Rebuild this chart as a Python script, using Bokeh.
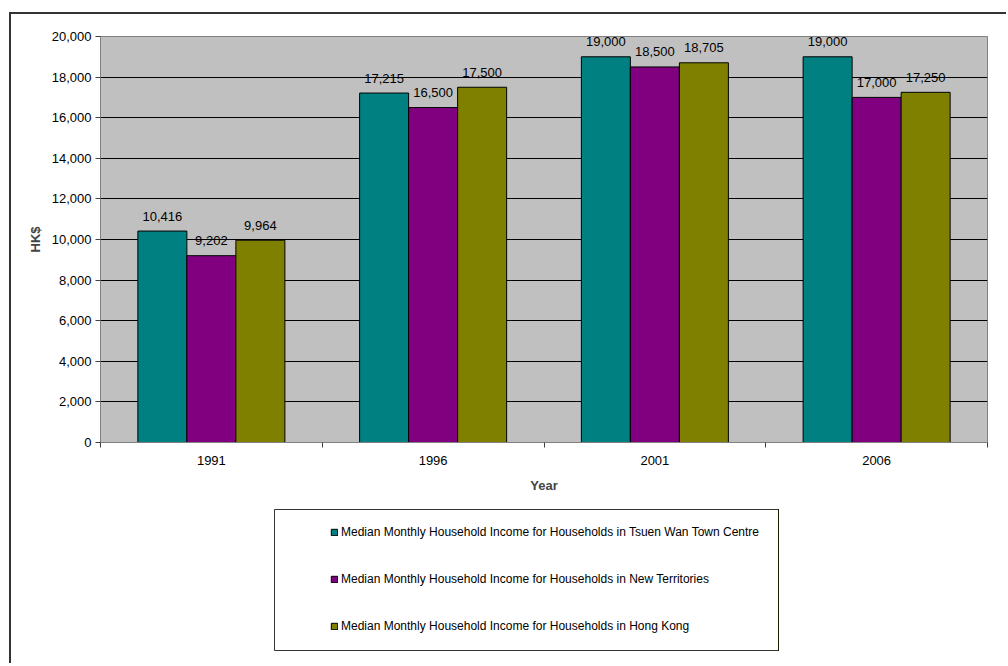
from bokeh.plotting import figure
from bokeh.layouts import column
from bokeh.core.properties import value
from bokeh.models import (ColumnDataSource, Range1d, LinearAxis,
                          FixedTicker, LabelSet, Legend, LegendItem,
                          NumeralTickFormatter)
from bokeh.transform import dodge
from bokeh.embed import file_html
from bokeh.resources import INLINE

years = ["1991", "1996", "2001", "2006"]
tsuen_wan = [10416, 17215, 19000, 19000]
new_territories = [9202, 16500, 18500, 17000]
hong_kong = [9964, 17500, 18705, 17250]
series_names = [
    "Median Monthly Household Income for Households in Tsuen Wan Town Centre",
    "Median Monthly Household Income for Households in New Territories",
    "Median Monthly Household Income for Households in Hong Kong",
]
y_ticks = list(range(0, 20001, 2000))

FONT = "Liberation Sans"
colors = ["#008080", "#800080", "#808000"]

pos = [i + 0.5 for i in range(len(years))]
source = ColumnDataSource(dict(
    pos=pos,
    tw=tsuen_wan, nt=new_territories, hk=hong_kong,
    tw_l=[f"{v:,}" for v in tsuen_wan],
    nt_l=[f"{v:,}" for v in new_territories],
    hk_l=[f"{v:,}" for v in hong_kong],
))
series = [(-0.221, "tw", "tw_l", colors[0]), (0, "nt", "nt_l", colors[1]), (0.221, "hk", "hk_l", colors[2])]
bw = 0.221

W = 995
p = figure(width=W, height=491, x_range=Range1d(0, len(years)),
           y_range=Range1d(0, 20000), output_backend="svg", toolbar_location=None,
           x_axis_location=None, min_border_left=89, min_border_right=19,
           min_border_top=22, min_border_bottom=63)
p.frame_align = False
p.background_fill_color = "#C0C0C0"
p.border_fill_color = "white"
p.outline_line_color = "#808080"
p.outline_line_width = 1
p.xgrid.grid_line_color = None
p.ygrid.grid_line_color = "black"
p.ygrid.grid_line_width = 1
p.ygrid.ticker = FixedTicker(ticks=y_ticks)

# y axis
ya = p.yaxis[0]
ya.ticker = FixedTicker(ticks=y_ticks, minor_ticks=[])
ya.formatter = NumeralTickFormatter(format="0,0")
ya.axis_label = "HK$"
ya.axis_label_text_font = FONT
ya.axis_label_text_font_style = "bold"
ya.axis_label_text_font_size = "13px"
ya.axis_label_standoff = 6
ya.major_label_text_font = FONT
ya.major_label_text_font_size = "13px"
ya.major_label_text_color = "black"
ya.major_label_standoff = 4
ya.major_tick_out = 5
ya.major_tick_in = 0
ya.axis_line_color = "#808080"
ya.major_tick_line_color = "#404040"

# x boundary ticks axis
tick_axis = LinearAxis(ticker=FixedTicker(ticks=list(range(len(years) + 1)), minor_ticks=[]),
                       major_label_overrides={i: "" for i in range(len(years) + 1)},
                       major_label_text_font_size="1px", major_label_standoff=0,
                       major_tick_out=5, major_tick_in=0,
                       axis_line_color="#808080", major_tick_line_color="#404040")
p.add_layout(tick_axis, "below")

cat_axis = LinearAxis(ticker=FixedTicker(ticks=pos, minor_ticks=[]),
                      major_label_overrides={x: y for x, y in zip(pos, years)},
                      axis_line_color=None, major_tick_line_color=None,
                      major_tick_out=0, major_tick_in=0,
                      major_label_standoff=8,
                      major_label_text_font=FONT, major_label_text_font_size="13px",
                      major_label_text_color="black",
                      axis_label="Year", axis_label_text_font=FONT,
                      axis_label_text_font_style="bold", axis_label_text_font_size="13px",
                      axis_label_standoff=10)
p.add_layout(cat_axis, "below")

for off, col, lab, c in series:
    p.vbar(x=dodge("pos", off), top=col, width=bw, source=source,
           fill_color=c, line_color="black", line_width=1)
    p.add_layout(LabelSet(x=dodge("pos", off), y=col, text=lab, source=source,
                          text_align="center", text_baseline="middle", y_offset=15,
                          text_font=value(FONT), text_font_size=value("13px"), text_color="black"))

# legend panel: its frame is the legend box; its bars lie outside its view,
# only their legend swatches show
q = figure(width=W, height=158, x_range=Range1d(-20, -19), y_range=Range1d(0, 1),
           output_backend="svg", toolbar_location=None,
           x_axis_location=None, y_axis_location=None,
           min_border_left=263, min_border_right=228, min_border_top=4, min_border_bottom=13)
q.frame_align = False
q.xgrid.grid_line_color = None
q.ygrid.grid_line_color = None
q.background_fill_color = "white"
q.border_fill_color = "white"
q.outline_line_color = "#333333"
q.outline_line_width = 1
swatches = []
for off, col, lab, c in series:
    swatches.append(q.vbar(x=dodge("pos", off), top=col, width=bw, source=source,
                           fill_color=c, line_color="black", line_width=1))

legend = Legend(items=[LegendItem(label=n, renderers=[r]) for n, r in zip(series_names, swatches)],
                location=(56, 17), orientation="vertical",
                glyph_width=8, glyph_height=8, label_height=14, label_standoff=3,
                spacing=33, padding=0, margin=0,
                label_text_font=FONT, label_text_font_size="12px", label_text_color="black",
                border_line_color=None, background_fill_alpha=0)
q.add_layout(legend)

layout = column(p, q, spacing=0, margin=(12, 0, 0, 9),
                styles={"border-left": "2px solid #333333", "border-top": "2px solid #333333"})

open("out.html", "w").write(file_html(layout, INLINE))
